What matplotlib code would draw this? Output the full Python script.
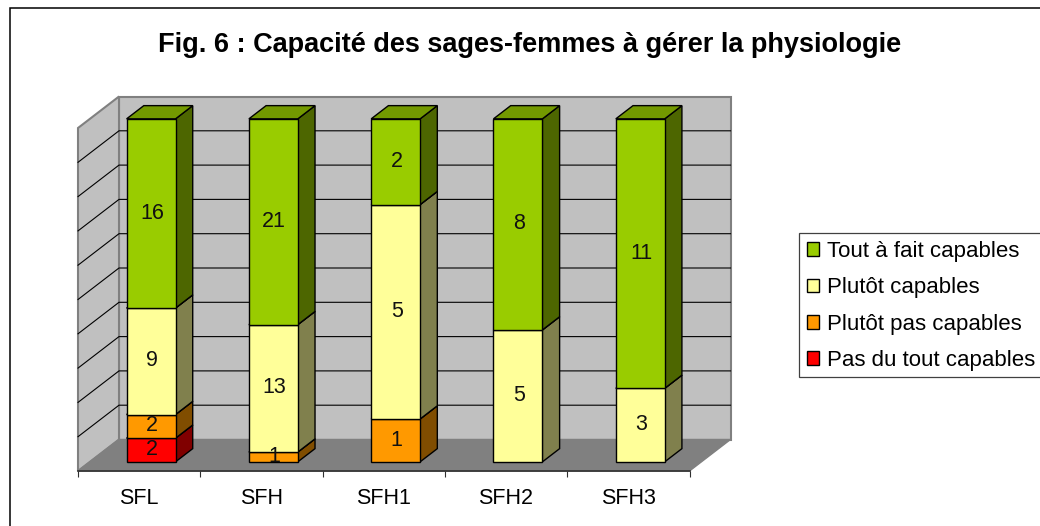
import matplotlib
matplotlib.use('Agg')
import matplotlib.pyplot as plt
from matplotlib.lines import Line2D
from matplotlib.patches import Polygon, Patch, Rectangle

categories = ['SFL', 'SFH', 'SFH1', 'SFH2', 'SFH3']
pas_du_tout = [2, 0, 0, 0, 0]
plutot_pas = [2, 1, 1, 0, 0]
plutot = [9, 13, 5, 5, 3]
tout_a_fait = [16, 21, 2, 8, 11]
series_names = ['Pas du tout capables', 'Plutôt pas capables', 'Plutôt capables', 'Tout à fait capables']
series_values = [pas_du_tout, plutot_pas, plutot, tout_a_fait]
front_colors = ['#FF0000', '#FF9900', '#FFFF99', '#99CC00']
side_colors = ['#800000', '#804D00', '#80804D', '#4D6600']
top_colors = ['#BF0000', '#BF7300', '#BFBF73', '#739900']

W, H = 1040, 526
plt.rcParams['font.family'] = ['Liberation Sans', 'DejaVu Sans']
fig = plt.figure(figsize=(W/100, H/100), dpi=100)
fig.patch.set_facecolor('white')
# outer frame: only the top and left edges are inside the picture
fig.add_artist(Line2D([9.5/W, 9.5/W, 1], [0, 1-7.5/H, 1-7.5/H], transform=fig.transFigure,
                      color='black', lw=1.1, solid_joinstyle='miter'))

L, R, T, B = 78, 689.5, 128, 471
ax = fig.add_axes([L/W, 1-B/H, (R-L)/W, (B-T)/H])
ax.set_xlim(-0.5, 4.5)
ax.set_ylim(0, 100)
ax.patch.set_visible(False)
for s in ['left', 'right', 'top']:
    ax.spines[s].set_visible(False)
ax.spines['bottom'].set_linewidth(1.2)
ax.spines['bottom'].set_color('#303030')
ax.spines['bottom'].set_zorder(6)

DX = 41/((R-L)/5)
DY = 31.5/((B-T)/100)
def P(x, y, z):
    return (x + z*DX, y + z*DY)

def face(pts, fc, ec='black', lw=1.0, z=2):
    ax.add_patch(Polygon(pts, closed=True, facecolor=fc, edgecolor=ec, lw=lw,
                         clip_on=False, zorder=z, joinstyle='miter'))

x0, x1 = -0.5, 4.5
face([P(x0,0,1), P(x1,0,1), P(x1,100,1), P(x0,100,1)], '#C0C0C0', '#808080', 1.5, 1)
face([P(x0,0,0), P(x0,0,1), P(x0,100,1), P(x0,100,0)], '#C0C0C0', '#808080', 1.5, 1)
face([P(x0,0,0), P(x1,0,0), P(x1,0,1), P(x0,0,1)], '#808080', '#808080', 1.0, 1)
for g in range(10, 100, 10):
    ax.plot(*zip(P(x0,g,0), P(x0,g,1), P(x1,g,1)), color='black', lw=0.8, clip_on=False, zorder=1.5)

bw = 1/2.5
z0, z1 = 0.29, 0.71
for i, cat in enumerate(categories):
    vals = [s[i] for s in series_values]
    tot = sum(vals)
    b = 0.0
    xa, xb = i - bw/2, i + bw/2
    for j, v in enumerate(vals):
        if v == 0:
            continue
        h = 100*v/tot
        t = b + h
        face([P(xb,b,z0), P(xb,b,z1), P(xb,t,z1), P(xb,t,z0)], side_colors[j])
        face([P(xa,t,z0), P(xb,t,z0), P(xb,t,z1), P(xa,t,z1)], top_colors[j])
        face([P(xa,b,z0), P(xb,b,z0), P(xb,t,z0), P(xa,t,z0)], front_colors[j], z=3)
        lx, ly = P(i, b + h/2, z0)
        ax.annotate(str(v), (lx, ly), xytext=(0.7, 0.3), textcoords='offset points',
                    ha='center', va='center', fontsize=15.5, color='#111111',
                    zorder=5, annotation_clip=False)
        b = t

ax.set_xticks([k - 0.5 for k in range(6)])
ax.set_xticklabels([])
ax.set_xticks(range(5), categories, minor=True)
ax.tick_params(axis='x', which='major', length=4.5, width=0.8, color='#303030')
ax.tick_params(axis='x', which='minor', length=0, labelsize=15.5, pad=12)
ax.set_yticks([])

fig.text(530/W, 1-45/H, 'Fig. 6 : Capacité des sages-femmes à gérer la physiologie',
         ha='center', va='center', fontsize=19.5, fontweight='bold')

# legend frame runs past the right edge of the picture
fig.add_artist(Rectangle((798.5/W, 1-376.5/H), 260/W, 144/H, transform=fig.transFigure,
                         facecolor='white', edgecolor='#404040', lw=0.9))
handles = [Patch(facecolor=front_colors[j], edgecolor='black', lw=1) for j in range(3, -1, -1)]
leg = fig.legend(handles, series_names[::-1], loc='upper left',
                 bbox_to_anchor=(807/W, 1-241/H), bbox_transform=fig.transFigure,
                 fontsize=16, frameon=False, borderpad=0, borderaxespad=0,
                 handlelength=0.55, handleheight=0.55, handletextpad=0.35,
                 labelspacing=0.69)

fig.savefig('out.png', dpi=100)
